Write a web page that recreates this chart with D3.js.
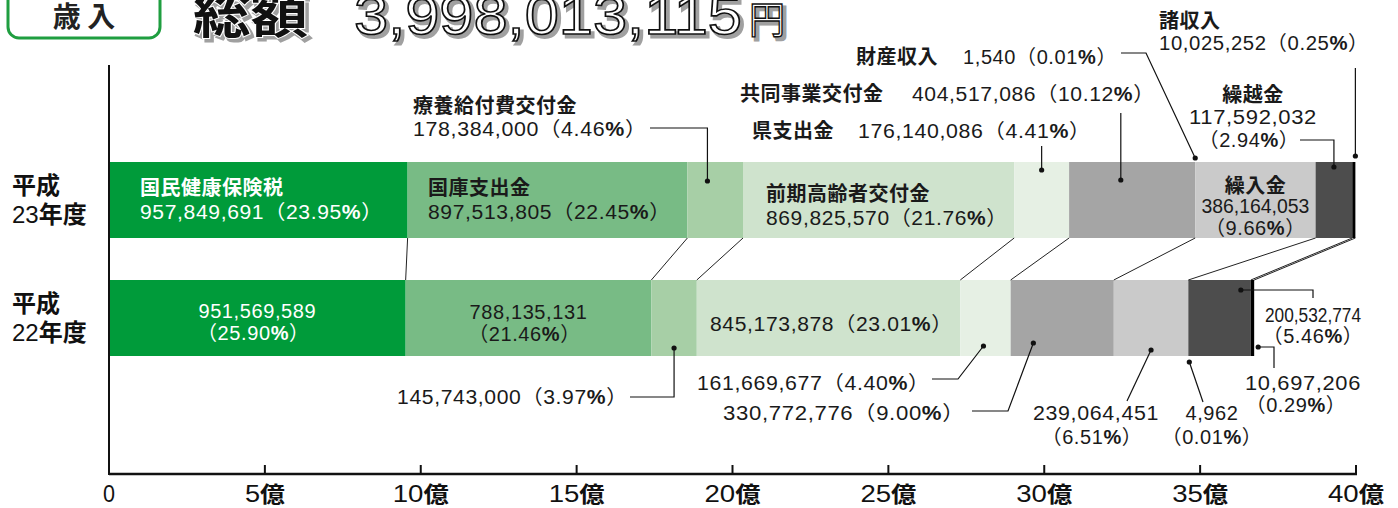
<!DOCTYPE html>
<html><head><meta charset="utf-8">
<script src="https://cdn.jsdelivr.net/npm/d3@7"></script>
<style>
body{margin:0;background:#fff;}
svg{display:block;}
text{font-family:"Liberation Sans","Noto Sans CJK JP",sans-serif;}
.jp{font-family:"Noto Sans CJK JP",sans-serif;}
</style>
</head><body>
<svg id="c" width="1398" height="508"></svg>
<script>
// ---------- data ----------
const years = ["H23", "H22"];
const yearLine1 = ["平成", "平成"];
const yearNum = ["23", "22"];
const categories = ["国民健康保険税","国庫支出金","療養給付費交付金","前期高齢者交付金","県支出金","共同事業交付金","財産収入","繰入金","繰越金","諸収入"];
const valuesH23 = [957849691, 897513805, 178384000, 869825570, 176140086, 404517086, 1540, 386164053, 117592032, 10025252];
const pctH23    = ["23.95","22.45","4.46","21.76","4.41","10.12","0.01","9.66","2.94","0.25"];
const valuesH22 = [951569589, 788135131, 145743000, 845173878, 161669677, 330772776, 4962, 239064451, 200532774, 10697206];
const pctH22    = ["25.90","21.46","3.97","23.01","4.40","9.00","0.01","6.51","5.46","0.29"];
const orderH23 = [0,1,2,3,4,5,6,7,8,9];
const orderH22 = [0,1,2,3,4,5,7,6,8,9];
const colors = ["#009b3a","#78bb85","#a7cfa6","#cfe3cd","#e6f0e4","#a5a5a5","#888888","#cacaca","#4d4d4d","#000000"];
const tickValues = [0, 5e8, 1e9, 1.5e9, 2e9, 2.5e9, 3e9, 3.5e9, 4e9];
const tickLabels = ["0","5","10","15","20","25","30","35","40"];
const tickUnit = "億";
const titleBox = "歳 入";
const titleWord = "総額";
const totalLabel = "3,998,013,115";
const yenUnit = "円";

// ---------- setup ----------
const svg = d3.select("#c");
const x = d3.scaleLinear().domain([0, 4e9]).range([109, 1356]);
const y = d3.scaleBand().domain(years).range([162, 356]).paddingInner(0.356).paddingOuter(0);
const fmt = d3.format(",");
const TXT = "#1a1a1a";

function segs(values, order) {
  let acc = 0;
  const out = {};
  order.forEach(i => { out[i] = {i, x0: acc, x1: acc + values[i], v: values[i]}; acc += values[i]; });
  return out;
}
const S = { H23: segs(valuesH23, orderH23), H22: segs(valuesH22, orderH22) };
const V = { H23: valuesH23, H22: valuesH22 };
const P = { H23: pctH23, H22: pctH22 };
const O = { H23: orderH23, H22: orderH22 };

function segX(yr, i, f) { const s = S[yr][i]; return x(s.x0) + f * (x(s.x1) - x(s.x0)); }

// text with bold "%"
function richText(g, tx, ty, str, o) {
  o = o || {};
  const t = g.append("text").attr("x", tx).attr("y", ty)
    .attr("font-size", o.size || 20).attr("fill", o.fill || TXT)
    .attr("text-anchor", o.anchor || "start")
    .attr("letter-spacing", o.ls != null ? o.ls : 0.6);
  if (o.len) t.attr("textLength", o.len).attr("lengthAdjust", "spacingAndGlyphs");
  const parts = str.split("%");
  parts.forEach((p, k) => {
    if (p) t.append("tspan").text(p);
    if (k < parts.length - 1) t.append("tspan").attr("font-weight", "bold").text("%");
  });
  return t;
}
function nameText(g, tx, ty, str, o) {
  o = o || {};
  return g.append("text").attr("class", "jp").attr("x", tx).attr("y", ty)
    .attr("font-size", o.size || 20).attr("font-weight", "bold")
    .attr("fill", o.fill || TXT).attr("text-anchor", o.anchor || "start")
    .attr("letter-spacing", o.ls != null ? o.ls : 0.5).text(str);
}
const valPct = (yr, i) => `${fmt(V[yr][i])}（${P[yr][i]}%）`;
const pctOnly = (yr, i) => `（${P[yr][i]}%）`;

// ---------- title ----------
svg.append("rect").attr("x", 8).attr("y", -14).attr("width", 152).attr("height", 52)
  .attr("rx", 11).attr("fill", "#fff").attr("stroke", "#1f9e40").attr("stroke-width", 3);
svg.append("text").attr("class", "jp").attr("x", 84).attr("y", 27).attr("text-anchor", "middle")
  .attr("font-size", 28).attr("font-weight", "bold").attr("fill", "#222").text(titleBox);

const tg = svg.append("g");
function titleRun(dx, dy, shadow) {
  const wordFill = shadow ? "#a0a0a0" : "#111", wordStroke = shadow ? "#a0a0a0" : "#fff";
  const numFill = shadow ? "#a0a0a0" : "#fff", numStroke = shadow ? "#a0a0a0" : "#111";
  tg.append("text").attr("class", "jp").attr("x", 193 + dx).attr("y", 33 + dy)
    .attr("font-size", 50).attr("font-weight", "bold").attr("fill", wordFill)
    .attr("stroke", wordStroke).attr("stroke-width", shadow ? 3 : 2).attr("paint-order", "stroke")
    .attr("textLength", 115).attr("lengthAdjust", "spacingAndGlyphs").text(titleWord);
  tg.append("text").attr("x", 354 + dx).attr("y", 34 + dy)
    .attr("font-size", 56).attr("fill", numFill)
    .attr("stroke", numStroke).attr("stroke-width", shadow ? 3 : 1.6)
    .attr("textLength", 388).attr("lengthAdjust", "spacingAndGlyphs").text(totalLabel);
  tg.append("text").attr("class", "jp").attr("x", 749 + dx).attr("y", 33 + dy)
    .attr("font-size", 38).attr("fill", numFill)
    .attr("stroke", numStroke).attr("stroke-width", shadow ? 3 : 1.4)
    .attr("textLength", 36).attr("lengthAdjust", "spacingAndGlyphs").text(yenUnit);
}
titleRun(3, 3, true);
titleRun(0, 0, false);

// ---------- bars ----------
const gb = svg.append("g");
years.forEach(yr => {
  gb.selectAll(null).data(O[yr].map(i => S[yr][i])).enter().append("rect")
    .attr("x", d => x(d.x0)).attr("y", y(yr))
    .attr("width", d => Math.max(0, x(d.x1) - x(d.x0)))
    .attr("height", y.bandwidth())
    .attr("fill", d => colors[d.i]);
});

// connectors between bars
const gc = svg.append("g").attr("stroke", "#222").attr("stroke-width", 1);
categories.forEach((c, i) => {
  if (V.H23[i] < 1e6 || V.H22[i] < 1e6) return;
  gc.append("line").attr("x1", x(S.H23[i].x1)).attr("y1", y("H23") + y.bandwidth())
    .attr("x2", x(S.H22[i].x1)).attr("y2", y("H22"));
});

// ---------- axes ----------
const axisY = 474;
svg.append("line").attr("x1", x(0)).attr("x2", x(0)).attr("y1", 65).attr("y2", axisY + 1)
  .attr("stroke", "#111").attr("stroke-width", 2);
const ax = svg.append("g").attr("transform", `translate(0,${axisY})`)
  .call(d3.axisBottom(x).tickValues(tickValues).tickSize(0).tickFormat(""));
ax.select(".domain").attr("stroke", "#111").attr("stroke-width", 2.5).attr("d", `M${x(0)},0H${x(4e9) + 1}`);
const tk = svg.append("g");
tickValues.forEach((v, k) => {
  tk.append("line").attr("x1", x(v)).attr("x2", x(v)).attr("y1", axisY - 9).attr("y2", axisY)
    .attr("stroke", "#111").attr("stroke-width", 2);
  const t = tk.append("text").attr("x", x(v)).attr("y", 502).attr("text-anchor", "middle")
    .attr("font-size", 24).attr("fill", "#111");
  t.append("tspan").text(tickLabels[k]);
  if (k > 0) t.append("tspan").attr("class", "jp").attr("font-weight", "bold").attr("font-size", 22).text(tickUnit);
  const w = k === 0 ? 12 : (tickLabels[k].length === 1 ? 40 : 56);
  t.attr("textLength", w).attr("lengthAdjust", "spacingAndGlyphs");
});

// ---------- year labels ----------
years.forEach((yr, k) => {
  const yc = y(yr);
  svg.append("text").attr("class", "jp").attr("x", 12).attr("y", yc + 32)
    .attr("font-size", 24).attr("font-weight", "bold").attr("fill", "#111").text(yearLine1[k]);
  const t = svg.append("text").attr("x", 12).attr("y", yc + 61).attr("font-size", 24).attr("fill", "#111");
  t.append("tspan").text(yearNum[k]);
  t.append("tspan").attr("class", "jp").attr("font-weight", "bold").text("年度");
});

// ---------- in-bar labels ----------
const gl = svg.append("g");
// H23
nameText(gl, 140, 195, categories[0], {fill: "#fff"});
richText(gl, 140, 219, valPct("H23", 0), {fill: "#fff", len: 243});
nameText(gl, 428, 195, categories[1]);
richText(gl, 428, 219, valPct("H23", 1), {len: 243});
nameText(gl, 766, 201, categories[3]);
richText(gl, 766, 225, valPct("H23", 3), {len: 242});
const mid7 = segX("H23", 7, 0.5);
nameText(gl, mid7, 193, categories[7], {anchor: "middle"});
richText(gl, mid7, 213, fmt(V.H23[7]), {anchor: "middle", len: 108, ls: 0});
richText(gl, mid7, 235, pctOnly("H23", 7), {anchor: "middle"});
// H22
const m0 = segX("H22", 0, 0.5);
richText(gl, m0, 318, fmt(V.H22[0]), {fill: "#fff", anchor: "middle"});
richText(gl, m0 - 4, 340, pctOnly("H22", 0), {fill: "#fff", anchor: "middle"});
const m1 = segX("H22", 1, 0.5);
richText(gl, m1, 319, fmt(V.H22[1]), {anchor: "middle"});
richText(gl, m1 - 4, 341, pctOnly("H22", 1), {anchor: "middle"});
richText(gl, 710, 331, valPct("H22", 3), {len: 243});

// ---------- annotations with leaders ----------
const ga = svg.append("g");
function leader(pts) {
  ga.append("path").attr("d", d3.line()(pts)).attr("fill", "none").attr("stroke", "#111").attr("stroke-width", 1.2);
  const p = pts[pts.length - 1];
  ga.append("circle").attr("cx", p[0]).attr("cy", p[1]).attr("r", 2.6).attr("fill", "#111");
}
// H23
nameText(ga, 413, 113, categories[2]);
richText(ga, 413, 136, valPct("H23", 2), {len: 234});
let d = segX("H23", 2, 0.36); leader([[650, 128], [d, 128], [d, 181]]);

nameText(ga, 752, 138, categories[4]);
richText(ga, 858, 138, valPct("H23", 4), {len: 233});
d = segX("H23", 4, 0.5); leader([[d, 146], [d, 170]]);

nameText(ga, 740, 101, categories[5]);
richText(ga, 912, 101, valPct("H23", 5), {len: 243});
d = segX("H23", 5, 0.41); leader([[d, 113], [d, 180]]);

nameText(ga, 856, 64, categories[6]);
richText(ga, 963, 64, valPct("H23", 6));
d = segX("H23", 6, 1); leader([[1121, 53], [1146, 53], [d, 158]]);

nameText(ga, 1159, 28, categories[9]);
richText(ga, 1159, 50, valPct("H23", 9), {len: 210});
d = segX("H23", 9, 1); leader([[d, 68], [d, 156]]);

const c8 = 1253;
nameText(ga, c8, 102, categories[8], {anchor: "middle"});
richText(ga, c8, 124, fmt(V.H23[8]), {anchor: "middle", len: 128});
richText(ga, c8 - 4, 147, pctOnly("H23", 8), {anchor: "middle"});
d = segX("H23", 8, 0.5); leader([[1300, 140], [d, 140], [d, 167]]);

// H22
richText(ga, 397, 404, valPct("H22", 2), {len: 231});
d = segX("H22", 2, 0.5); leader([[630, 397], [d, 397], [d, 348]]);

richText(ga, 697, 390, valPct("H22", 4), {len: 233});
d = segX("H22", 4, 0.46); leader([[932, 379], [958, 379], [d, 346]]);

richText(ga, 723, 420, valPct("H22", 5), {len: 242});
d = segX("H22", 5, 0.22); leader([[972, 411], [1008, 411], [d, 343]]);

richText(ga, 1096, 420, fmt(V.H22[7]), {anchor: "middle", len: 126});
richText(ga, 1092, 444, pctOnly("H22", 7), {anchor: "middle"});
d = segX("H22", 7, 0.5); leader([[1127, 401], [d, 350]]);

richText(ga, 1212, 420, fmt(V.H22[6]), {anchor: "middle"});
richText(ga, 1212, 444, pctOnly("H22", 6), {anchor: "middle"});
d = segX("H22", 6, 1); leader([[1203, 402], [d + 1, 362]]);

richText(ga, 1313, 322, fmt(V.H22[8]), {anchor: "middle", len: 96, ls: 0});
richText(ga, 1313, 343, pctOnly("H22", 8), {anchor: "middle"});
d = segX("H22", 8, 0.84); leader([[1313, 298], [1313, 290], [d, 290]]);

richText(ga, 1303, 390, fmt(V.H22[9]), {anchor: "middle", len: 116});
richText(ga, 1296, 412, pctOnly("H22", 9), {anchor: "middle"});
d = segX("H22", 9, 1) + 4; leader([[1274, 368], [1274, 347], [d, 347]]);
</script>
</body></html>
